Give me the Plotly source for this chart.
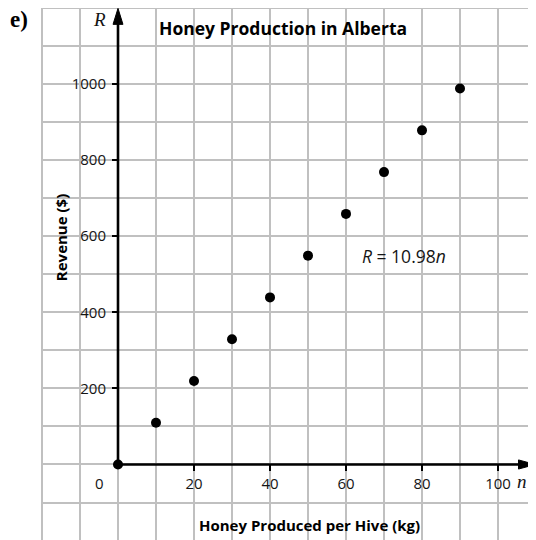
import plotly.graph_objects as go

# Data
honey_kg = [0, 10, 20, 30, 40, 50, 60, 70, 80, 90]
revenue = [0, 109.8, 219.6, 329.4, 439.2, 549.0, 658.8, 768.6, 878.4, 988.2]
x_ticks = [20, 40, 60, 80, 100]
y_ticks = [200, 400, 600, 800, 1000]

title_text = "Honey Production in Alberta"
x_title = "Honey Produced per Hive (kg)"
y_title = "Revenue ($)"
equation = "<i>R</i> = 10.98<i>n</i>"

X_RANGE = [-20, 110]
Y_RANGE = [-198.5, 1200]

SANS = "Open Sans, Liberation Sans, sans-serif"
SERIF = "Liberation Serif, Times New Roman, serif"
GRID = "#c0c0c0"
INK = "#141414"

fig = go.Figure()

fig.add_trace(go.Scatter(
    x=honey_kg, y=revenue, mode="markers",
    marker=dict(size=10, color="black"),
    showlegend=False, hoverinfo="skip",
))
# empty trace bound to the overlay axes that carry the tick labels
fig.add_trace(go.Scatter(x=[None], y=[None], xaxis="x2", yaxis="y2",
                         showlegend=False, hoverinfo="skip"))

y0_frac = (0 - Y_RANGE[0]) / (Y_RANGE[1] - Y_RANGE[0])
x0_frac = (0 - X_RANGE[0]) / (X_RANGE[1] - X_RANGE[0])

fig.update_layout(
    width=528, height=532,
    margin=dict(l=34, r=0, t=0, b=0),
    paper_bgcolor="white", plot_bgcolor="white",
    xaxis=dict(range=X_RANGE, dtick=10, tick0=0, showgrid=True, gridcolor=GRID,
               gridwidth=1.5, showticklabels=False, ticks="", zeroline=False,
               showline=False, fixedrange=True),
    yaxis=dict(range=Y_RANGE, dtick=100, tick0=0, showgrid=True, gridcolor=GRID,
               gridwidth=1.5, showticklabels=False, ticks="", zeroline=False,
               showline=False, fixedrange=True),
    xaxis2=dict(range=X_RANGE, overlaying="x", anchor="free", position=y0_frac,
                side="bottom", tickvals=x_ticks, ticks="outside", ticklen=6,
                tickwidth=2, tickcolor="black", showgrid=False, zeroline=False,
                showline=False, tickfont=dict(family=SANS, size=15, color=INK),
                fixedrange=True),
    yaxis2=dict(range=Y_RANGE, overlaying="y", anchor="free", position=x0_frac,
                side="left", tickvals=y_ticks, ticks="outside", ticklen=6,
                tickwidth=2, tickcolor="black", showgrid=False, zeroline=False,
                showline=False, ticklabelstandoff=3,
                tickfont=dict(family=SANS, size=15, color=INK),
                fixedrange=True),
)

# border lines of the grid (left and top)
fig.add_shape(type="line", xref="paper", yref="paper", x0=0, x1=0, y0=0, y1=1,
              line=dict(color=GRID, width=2))
fig.add_shape(type="line", xref="paper", yref="paper", x0=0, x1=1, y0=1, y1=1,
              line=dict(color=GRID, width=2))

# axes with arrow heads
fig.add_shape(type="line", x0=0, x1=0, y0=0, y1=1165, line=dict(color="black", width=2.6))
fig.add_shape(type="path", path="M -1.3 1157 L 1.3 1157 L 0 1199 Z",
              fillcolor="black", line=dict(color="black", width=1))
fig.add_shape(type="line", x0=0, x1=106, y0=0, y1=0, line=dict(color="black", width=2.6))
fig.add_shape(type="path", path="M 105.4 -12 L 105.4 12 L 109.8 0 Z",
              fillcolor="black", line=dict(color="black", width=1))

ann = [
    dict(text="0", x=-4.8, y=-48, xref="x", yref="y", showarrow=False,
         font=dict(family=SANS, size=15, color=INK)),
    dict(text="<i>R</i>", x=-4.8, y=1170, xref="x", yref="y", showarrow=False,
         font=dict(family=SERIF, size=19, color=INK)),
    dict(text="<i>n</i>", x=106.3, y=-46, xref="x", yref="y", showarrow=False,
         font=dict(family=SERIF, size=19, color=INK)),
    dict(text="<b>e)</b>", x=(11 - 34) / 494, y=1 - 12 / 532, xref="paper", yref="paper",
         xanchor="center", yanchor="middle", showarrow=False,
         font=dict(family=SERIF, size=23, color="black")),
    dict(text="<b>" + title_text + "</b>", x=43.4, y=1147, xref="x", yref="y",
         showarrow=False, font=dict(family=SANS, size=17.5, color="black")),
    dict(text="<b>" + x_title + "</b>", x=50.3, y=-158, xref="x", yref="y",
         showarrow=False, font=dict(family=SANS, size=15, color="black")),
    dict(text="<b>" + y_title + "</b>", x=-15, y=595, xref="x", yref="y",
         showarrow=False, textangle=-90,
         font=dict(family=SANS, size=15, color="black")),
    dict(text=equation, x=75.3, y=548, xref="x", yref="y", showarrow=False,
         font=dict(family=SANS, size=17.5, color=INK)),
]
fig.update_layout(annotations=ann)

fig.write_html("out.html")
